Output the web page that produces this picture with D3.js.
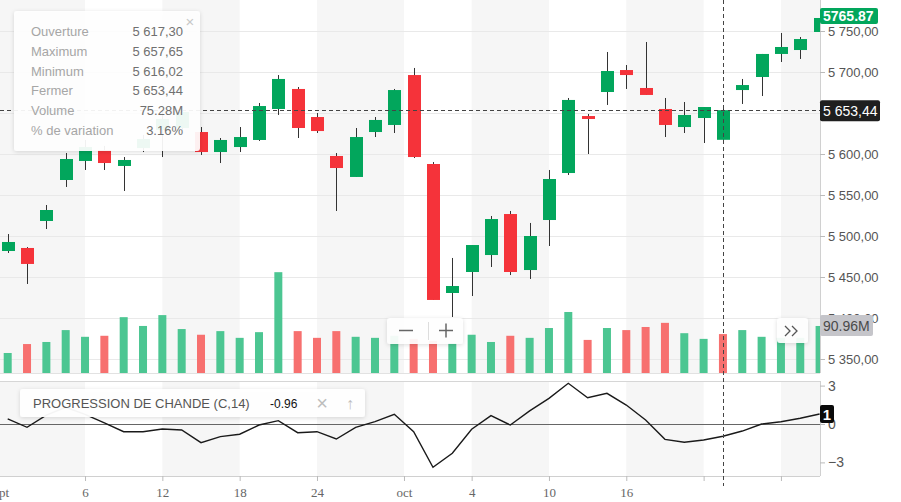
<!DOCTYPE html>
<html><head><meta charset="utf-8">
<script src="https://cdn.jsdelivr.net/npm/d3@7"></script>
<style>
body{margin:0;background:#fff;}
svg{display:block;font-family:"Liberation Sans",Arial,sans-serif;}
</style>
</head><body>
<svg id="c" width="901" height="502"></svg>
<script>
// ---------- data ----------
const dates = ["2024-09-02","2024-09-03","2024-09-04","2024-09-05","2024-09-06","2024-09-09","2024-09-10","2024-09-11","2024-09-12","2024-09-13",
"2024-09-16","2024-09-17","2024-09-18","2024-09-19","2024-09-20","2024-09-23","2024-09-24","2024-09-25","2024-09-26","2024-09-27","2024-09-30",
"2024-10-01","2024-10-02","2024-10-03","2024-10-04","2024-10-07","2024-10-08","2024-10-09","2024-10-10","2024-10-11",
"2024-10-14","2024-10-15","2024-10-16","2024-10-17","2024-10-18","2024-10-21","2024-10-22","2024-10-23","2024-10-24","2024-10-25",
"2024-10-28","2024-10-29","2024-10-30"];
const openP  = [5481.7,5485.4,5518.3,5568.3,5591.5,5604.9,5585.4,5607.3,5629.3,5631.7,
5626.8,5602.4,5608.5,5617.1,5654.9,5679.3,5645.1,5597.6,5572.0,5626.8,5635.4,
5696.3,5587.8,5430.5,5456.1,5476.8,5526.8,5458.5,5519.5,5576.8,
5646.3,5675.6,5702.4,5680.5,5654.9,5632.9,5643.9,5617.30,5678.0,5693.9,
5722.0,5726.8,5748.8];
const highP  = [5502.4,5486.5,5537.8,5601.2,5617.1,5609.8,5596.3,5623.2,5651.2,5658.5,
5632.9,5619.5,5632.9,5662.2,5696.3,5681.7,5650.0,5601.2,5631.7,5645.1,5679.3,
5704.9,5590.2,5473.2,5489.0,5524.4,5530.5,5515.9,5580.5,5668.3,
5648.8,5724.4,5708.5,5736.6,5668.3,5663.4,5657.3,5657.65,5691.5,5722.0,
5747.6,5742.7,5768.0];
const lowP   = [5479.3,5441.5,5508.5,5559.8,5580.5,5580.5,5554.9,5602.4,5596.3,5628.0,
5598.8,5589.0,5602.4,5615.9,5647.6,5619.5,5625.6,5530.5,5572.0,5620.7,5625.6,
5595.1,5422.0,5401.2,5426.8,5462.2,5452.4,5447.6,5487.8,5574.4,
5600.0,5659.8,5679.3,5672.0,5620.7,5625.6,5613.4,5616.02,5661.0,5670.7,
5712.2,5715.9,5720.7];
const closeP = [5492.7,5465.9,5531.7,5593.9,5608.5,5589.0,5592.7,5618.3,5642.7,5651.2,
5602.4,5617.1,5620.7,5658.5,5691.5,5631.7,5628.0,5582.9,5620.7,5641.5,5678.0,
5596.3,5422.0,5439.0,5489.0,5520.7,5456.1,5500.0,5569.5,5665.9,
5642.7,5701.2,5696.3,5672.0,5635.4,5647.6,5657.3,5653.44,5684.1,5722.0,
5730.5,5740.2,5765.87];
const volumeM = [38.7,56,60,83,70,72,108,91,112,85,
74,81,68,79,195,81,68,81,70,68,72,
66,62,58,74,60,72,68,87,118,
64,87,83,89,97,77,66,75.28,83,70,
68,68,90.96];
const chandeProgression = [0.4,-0.26,0.7,1.3,0.75,0.08,-0.6,-0.6,-0.39,-0.47,
-1.46,-0.99,-0.8,-0.08,0.26,-0.68,-0.6,-1.17,-0.26,0.18,0.76,
-0.6,-3.38,-2.29,-0.41,0.65,-0.08,1.02,2.0,3.18,
2.05,2.4,1.48,0.31,-1.2,-1.43,-1.25,-0.96,-0.55,0.0,
0.18,0.45,0.78];
const priceTicks = [5350,5400,5450,5500,5550,5600,5650,5700,5750];
const indTicks = [-3,0,3];
const xTickIndex  = [-0.5,4,8,12,16,20.5,24,28,32,36,40];
const xTickLabels = ["sept","6","12","18","24","oct","4","10","16","",""];
const tooltipLabels = ["Ouverture","Maximum","Minimum","Fermer","Volume","% de variation"];
const tooltipValues = ["5 617,30","5 657,65","5 616,02","5 653,44","75.28M","3.16%"];
const crossIndex = 37;
const crossPrice = 5653.44;
const indName = "PROGRESSION DE CHANDE (C,14)";
const indValueText = "-0.96";

// ---------- setup ----------
const GREEN="#02a65c", RED="#f5333a", VGREEN="#4cc692", VRED="#f7706f";
const svg = d3.select("#c");
const R = 820;           // plot right edge
const mainBottom = 373, indTop = 381, indBottom = 476;
const x = d3.scaleLinear().domain([0, dates.length-1]).range([7.7, 819.6]);
const y = d3.scaleLinear().domain([5350,5750]).range([359,31]);
const yVol = d3.scaleLinear().domain([0,100]).range([mainBottom, mainBottom-51.7]);
const yInd = d3.scaleLinear().domain([-3,3]).range([462.4,385.6]);
const fr = d3.formatLocale({decimal:",", thousands:" ", grouping:[3], currency:["",""]});
const fmtPrice = fr.format(",.2f");

const defs = svg.append("defs");
defs.append("clipPath").attr("id","clipMain").append("rect").attr("x",0).attr("y",0).attr("width",R).attr("height",mainBottom);
defs.append("clipPath").attr("id","clipInd").append("rect").attr("x",0).attr("y",indTop).attr("width",R).attr("height",indBottom-indTop);
const f = defs.append("filter").attr("id","sh").attr("x","-20%").attr("y","-20%").attr("width","140%").attr("height","140%");
f.append("feDropShadow").attr("dx",0).attr("dy",1).attr("stdDeviation",2).attr("flood-color","#000").attr("flood-opacity",0.15);

// ---------- bands ----------
const bandG = svg.append("g");
xTickIndex.forEach((t,k)=>{
  if(k%2!==0) return;
  const a = Math.max(0, x(t));
  const b = k+1 < xTickIndex.length ? x(xTickIndex[k+1]) : R;
  [[0,mainBottom],[indTop,indBottom]].forEach(([t0,t1])=>{
    bandG.append("rect").attr("x",a).attr("y",t0).attr("width",Math.min(b,R)-a).attr("height",t1-t0).attr("fill","#f6f6f6");
  });
});

// ---------- grid ----------
svg.append("g").selectAll("line").data(priceTicks).join("line")
  .attr("x1",0).attr("x2",R).attr("y1",d=>Math.round(y(d))+0.5).attr("y2",d=>Math.round(y(d))+0.5)
  .attr("stroke","#e9e9e9");
svg.append("line").attr("x1",0).attr("x2",R).attr("y1",mainBottom+0.5).attr("y2",mainBottom+0.5).attr("stroke","#e2e2e2");

// ---------- volume ----------
const idx = d3.range(dates.length);
const main = svg.append("g").attr("clip-path","url(#clipMain)");
main.append("g").selectAll("rect").data(idx).join("rect")
  .attr("x",i=>x(i)-4).attr("width",8)
  .attr("y",i=>yVol(volumeM[i])).attr("height",i=>yVol(0)-yVol(volumeM[i]))
  .attr("fill",i=> (i===0 || closeP[i]>=closeP[i-1]) ? VGREEN : VRED);

// ---------- candles ----------
main.append("g").selectAll("line").data(idx).join("line")
  .attr("x1",i=>Math.round(x(i))+0.5).attr("x2",i=>Math.round(x(i))+0.5)
  .attr("y1",i=>y(highP[i])).attr("y2",i=>y(lowP[i]))
  .attr("stroke","#333").attr("stroke-width",1);
main.append("g").selectAll("rect").data(idx).join("rect")
  .attr("x",i=>Math.round(x(i))-6).attr("width",13)
  .attr("y",i=>y(Math.max(openP[i],closeP[i])))
  .attr("height",i=>Math.max(2, Math.abs(y(openP[i])-y(closeP[i]))))
  .attr("fill",i=> closeP[i]>=openP[i] ? GREEN : RED);

// ---------- indicator ----------
svg.append("line").attr("x1",0).attr("x2",R).attr("y1",indTop+0.5).attr("y2",indTop+0.5).attr("stroke","#d6d6d6");
svg.append("line").attr("x1",0).attr("x2",R).attr("y1",indBottom+0.5).attr("y2",indBottom+0.5).attr("stroke","#d0d0d0");
const ind = svg.append("g").attr("clip-path","url(#clipInd)");
ind.append("line").attr("x1",0).attr("x2",R).attr("y1",Math.round(yInd(0))+0.5).attr("y2",Math.round(yInd(0))+0.5).attr("stroke","#666");
ind.append("path").datum(idx)
  .attr("d", d3.line().x(i=>x(i)).y(i=>yInd(chandeProgression[i])))
  .attr("fill","none").attr("stroke","#1a1a1a").attr("stroke-width",1.4);

// ---------- crosshair ----------
svg.append("line").attr("x1",0).attr("x2",R).attr("y1",Math.round(y(crossPrice))+0.5).attr("y2",Math.round(y(crossPrice))+0.5)
  .attr("stroke","#444").attr("stroke-dasharray","4,3");
svg.append("line").attr("x1",Math.round(x(crossIndex))+0.5).attr("x2",Math.round(x(crossIndex))+0.5).attr("y1",0).attr("y2",486)
  .attr("stroke","#444").attr("stroke-dasharray","4,3");

// ---------- axes ----------
const ax = svg.append("g").attr("transform",`translate(${R},0)`)
  .call(d3.axisRight(y).tickValues(priceTicks).tickFormat(fmtPrice).tickSize(5).tickPadding(3));
ax.select(".domain").attr("d",`M0.5,0V${mainBottom}`).attr("stroke","#d0d0d0");
ax.selectAll(".tick line").attr("stroke","#bbb");
ax.selectAll(".tick text").attr("fill","#555").style("font-size","13px").style("font-family","'Liberation Sans',Arial,sans-serif");
// the tick label hidden behind the crosshair price label is not drawn
ax.selectAll(".tick").filter(d=>Math.abs(y(d)-y(crossPrice))<12).select("text").remove();

const ai = svg.append("g").attr("transform",`translate(${R},0)`)
  .call(d3.axisRight(yInd).tickValues(indTicks).tickFormat(d3.format("d")).tickSize(5).tickPadding(3));
ai.select(".domain").attr("d",`M0.5,${indTop}V${indBottom}`).attr("stroke","#d0d0d0");
ai.selectAll(".tick line").attr("stroke","#bbb");
ai.selectAll(".tick text").attr("fill","#555").style("font-size","14px").style("font-family","'Liberation Sans',Arial,sans-serif");

const axb = svg.append("g").attr("transform",`translate(0,${indBottom})`)
  .call(d3.axisBottom(x).tickValues(xTickIndex).tickFormat((d,i)=>xTickLabels[i]).tickSize(5).tickPadding(7));
axb.select(".domain").remove();
axb.selectAll(".tick line").attr("stroke","#bbb");
axb.selectAll(".tick text").attr("fill","#666").style("font-size","13px").style("font-family","'Liberation Serif','Times New Roman',serif");

// ---------- right-side labels ----------
const last = dates.length-1;
const ly = y(closeP[last]);
svg.append("rect").attr("x",R).attr("y",ly-10).attr("width",58).attr("height",16).attr("rx",2).attr("fill",GREEN);
svg.append("text").attr("x",R+3).attr("y",ly+3).attr("fill","#fff").style("font-size","14px").style("font-weight","600").text(closeP[last].toFixed(2));

const cy = y(crossPrice);
svg.append("rect").attr("x",R).attr("y",cy-10).attr("width",60).attr("height",21).attr("rx",2).attr("fill","#1f1f1f");
svg.append("text").attr("x",R+3).attr("y",cy+5.5).attr("fill","#fff").style("font-size","14px").text(fmtPrice(crossPrice));

const vy = yVol(volumeM[last]);
svg.append("rect").attr("x",R).attr("y",vy-11).attr("width",53).attr("height",21).attr("rx",2).attr("fill","#c5c5ca");
svg.append("text").attr("x",R+3).attr("y",vy+5).attr("fill","#4a4a4a").style("font-size","14px").text(d3.format(".2f")(volumeM[last])+"M");

const iy = yInd(chandeProgression[last]);
svg.append("rect").attr("x",R).attr("y",iy-9).attr("width",14).attr("height",18).attr("rx",2).attr("fill","#0a0a0a");
svg.append("text").attr("x",R+7).attr("y",iy+5.5).attr("text-anchor","middle").attr("fill","#fff").style("font-size","15px").style("font-weight","700").text(d3.format(".0f")(chandeProgression[last]));

// ---------- tooltip ----------
const tt = svg.append("g");
tt.append("rect").attr("x",14).attr("y",11).attr("width",186).attr("height",140).attr("rx",3)
  .attr("fill","rgba(255,255,255,0.92)").attr("filter","url(#sh)");
tooltipLabels.forEach((l,k)=>{
  const by = 36 + k*19.8;
  tt.append("text").attr("x",31).attr("y",by).attr("fill","#a6a6a6").style("font-size","13px").text(l);
  tt.append("text").attr("x",183).attr("y",by).attr("text-anchor","end").attr("fill","#707070").style("font-size","13px").text(tooltipValues[k]);
});
tt.append("text").attr("x",190).attr("y",27).attr("text-anchor","middle").attr("fill","#c8c8c8").style("font-size","15px").text("×");

// ---------- indicator legend ----------
const lg = svg.append("g");
lg.append("rect").attr("x",20).attr("y",389).attr("width",345).attr("height",28).attr("rx",3)
  .attr("fill","rgba(255,255,255,0.95)").attr("filter","url(#sh)");
lg.append("text").attr("x",33).attr("y",408).attr("fill","#555").style("font-size","13px").text(indName);
lg.append("text").attr("x",270).attr("y",408).attr("fill","#111").style("font-size","12px").text(indValueText);
lg.append("text").attr("x",322).attr("y",410).attr("text-anchor","middle").attr("fill","#bdbdbd").style("font-size","20px").text("×");
lg.append("text").attr("x",350).attr("y",409).attr("text-anchor","middle").attr("fill","#bdbdbd").style("font-size","16px").text("↑");

// ---------- zoom control ----------
const zc = svg.append("g");
zc.append("rect").attr("x",387).attr("y",318).attr("width",76).attr("height",26).attr("rx",3)
  .attr("fill","rgba(255,255,255,0.92)").attr("filter","url(#sh)");
zc.append("line").attr("x1",399).attr("x2",413).attr("y1",330.5).attr("y2",330.5).attr("stroke","#666").attr("stroke-width",1.5);
zc.append("line").attr("x1",428.5).attr("x2",428.5).attr("y1",322).attr("y2",340).attr("stroke","#ddd");
zc.append("line").attr("x1",439).attr("x2",453).attr("y1",330.5).attr("y2",330.5).attr("stroke","#666").attr("stroke-width",1.5);
zc.append("line").attr("x1",446).attr("x2",446).attr("y1",323.5).attr("y2",337.5).attr("stroke","#666").attr("stroke-width",1.5);

const nb = svg.append("g");
nb.append("rect").attr("x",777).attr("y",318).attr("width",31).attr("height",25).attr("rx",3)
  .attr("fill","rgba(255,255,255,0.92)").attr("filter","url(#sh)");
nb.append("path").attr("d","M785,326 L790,331 L785,336 M792,326 L797,331 L792,336")
  .attr("fill","none").attr("stroke","#555").attr("stroke-width",1.3);
</script>
</body></html>
